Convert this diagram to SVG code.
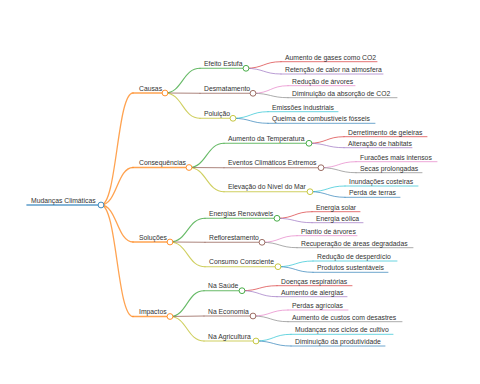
<svg xmlns="http://www.w3.org/2000/svg" width="480" height="384" viewBox="0 0 480 384">
<style>
text{font-family:"Liberation Sans",Arial,sans-serif;font-size:6.8px;fill:#333}
.l{fill:none;stroke-linecap:round}
.d0{stroke-width:1.6}.d1{stroke-width:1.3}.d2{stroke-width:1.1}.d3{stroke-width:0.9}
circle{fill:#fff;stroke-width:1}
.c0{stroke:#1f77b4}.c1{stroke:#ff7f0e}.gr{stroke:#2ca02c}.br{stroke:#8c564b}.ol{stroke:#bcbd22}
.rd{stroke:#d62728}.pu{stroke:#9467bd}.pk{stroke:#e377c2}.gy{stroke:#7f7f7f}.cy{stroke:#17becf}.bl{stroke:#1f77b4}
g path{stroke-opacity:0.72}
circle{stroke-opacity:0.85}
</style>
<rect width="480" height="384" fill="#fff"/>
<g id="connectors" class="links">
<path class="l d1 c1" d="M101 205C117 205 117 93 133 93"/>
<path class="l d1 c1" d="M101 205C117 205 117 167.5 133 167.5"/>
<path class="l d1 c1" d="M101 205C117 205 117 242 133 242"/>
<path class="l d1 c1" d="M101 205C117 205 117 316.5 133 316.5"/>
<path class="l d2 gr" d="M165 93C182.5 93 182.5 68.3 200 68.3"/>
<path class="l d2 br" d="M165 93L200 93.3"/>
<path class="l d2 ol" d="M165 93C182.5 93 182.5 118.3 200 118.3"/>
<path class="l d2 gr" d="M189 167.5C206.5 167.5 206.5 143.3 224 143.3"/>
<path class="l d2 br" d="M189 167.5L224 167.7"/>
<path class="l d2 ol" d="M189 167.5C206.5 167.5 206.5 191.7 224 191.7"/>
<path class="l d2 gr" d="M170 242C187.5 242 187.5 218.3 205 218.3"/>
<path class="l d2 br" d="M170 242L205 242.3"/>
<path class="l d2 ol" d="M170 242C187.5 242 187.5 266.7 205 266.7"/>
<path class="l d2 gr" d="M170 316.5C187 316.5 187 290.7 204 290.7"/>
<path class="l d2 br" d="M170 316.5L204 316"/>
<path class="l d2 ol" d="M170 316.5C187 316.5 187 341 204 341"/>
<path class="l d3 rd" d="M246 68.3C263.5 68.3 263.5 61.7 281 61.7"/>
<path class="l d3 pu" d="M246 68.3C263.5 68.3 263.5 74 281 74"/>
<path class="l d3 pk" d="M253 93.3C270.5 93.3 270.5 85.7 288 85.7"/>
<path class="l d3 gy" d="M253 93.3C270.5 93.3 270.5 97.7 288 97.7"/>
<path class="l d3 cy" d="M233 118.3C250.5 118.3 250.5 111.7 268 111.7"/>
<path class="l d3 bl" d="M233 118.3C250.5 118.3 250.5 123.3 268 123.3"/>
<path class="l d3 rd" d="M309 143.3C326.5 143.3 326.5 136.7 344 136.7"/>
<path class="l d3 pu" d="M309 143.3C326.5 143.3 326.5 147.7 344 147.7"/>
<path class="l d3 pk" d="M321 167.7C338.5 167.7 338.5 161.7 356 161.7"/>
<path class="l d3 gy" d="M321 167.7C338.5 167.7 338.5 172.7 356 172.7"/>
<path class="l d3 cy" d="M310 191.7C327.5 191.7 327.5 186 345 186"/>
<path class="l d3 bl" d="M310 191.7C327.5 191.7 327.5 197.3 345 197.3"/>
<path class="l d3 rd" d="M277 218.3C294.5 218.3 294.5 211.7 312 211.7"/>
<path class="l d3 pu" d="M277 218.3C294.5 218.3 294.5 222.7 312 222.7"/>
<path class="l d3 pk" d="M262 242.3C279.5 242.3 279.5 235.7 297 235.7"/>
<path class="l d3 gy" d="M262 242.3C279.5 242.3 279.5 247.7 297 247.7"/>
<path class="l d3 cy" d="M278 266.7C295.5 266.7 295.5 261 313 261"/>
<path class="l d3 bl" d="M278 266.7C295.5 266.7 295.5 272.3 313 272.3"/>
<path class="l d3 rd" d="M242 290.7C259.5 290.7 259.5 285.7 277 285.7"/>
<path class="l d3 pu" d="M242 290.7C259.5 290.7 259.5 296.7 277 296.7"/>
<path class="l d3 pk" d="M253 316C270.5 316 270.5 310 288 310"/>
<path class="l d3 gy" d="M253 316C270.5 316 270.5 321.7 288 321.7"/>
<path class="l d3 cy" d="M256 341C273.5 341 273.5 334.3 291 334.3"/>
<path class="l d3 bl" d="M256 341C273.5 341 273.5 346 291 346"/>
</g>
<g id="n-root"><path class="l d0 c0" d="M27 205H101"/><text x="31" y="202.6">Mudanças Climáticas</text><circle class="c0" cx="101" cy="205" r="2.9"/></g>
<g id="n-causas"><path class="l d1 c1" d="M133 93H165"/><text x="139" y="90.8">Causas</text><circle class="c1" cx="165" cy="93" r="2.9"/></g>
<g id="n-consequencias"><path class="l d1 c1" d="M133 167.5H189"/><text x="139" y="165.2">Consequências</text><circle class="c1" cx="189" cy="167.5" r="2.9"/></g>
<g id="n-solucoes"><path class="l d1 c1" d="M133 242H170"/><text x="139" y="239.7">Soluções</text><circle class="c1" cx="170" cy="242" r="2.9"/></g>
<g id="n-impactos"><path class="l d1 c1" d="M133 316.5H170"/><text x="139" y="314.2">Impactos</text><circle class="c1" cx="170" cy="316.5" r="2.9"/></g>
<g id="n-efeito"><path class="l d2 gr" d="M200 68.3H246"/><text x="204" y="66">Efeito Estufa</text><circle class="gr" cx="246" cy="68.3" r="2.9"/></g>
<g id="n-desmat"><path class="l d2 br" d="M200 93.3H253"/><text x="204" y="91">Desmatamento</text><circle class="br" cx="253" cy="93.3" r="2.9"/></g>
<g id="n-poluicao"><path class="l d2 ol" d="M200 118.3H233"/><text x="204" y="116">Poluição</text><circle class="ol" cx="233" cy="118.3" r="2.9"/></g>
<g id="n-temp"><path class="l d2 gr" d="M224 143.3H309"/><text x="228" y="141">Aumento da Temperatura</text><circle class="gr" cx="309" cy="143.3" r="2.9"/></g>
<g id="n-eventos"><path class="l d2 br" d="M224 167.7H321"/><text x="228" y="165.4">Eventos Climáticos Extremos</text><circle class="br" cx="321" cy="167.7" r="2.9"/></g>
<g id="n-elevacao"><path class="l d2 ol" d="M224 191.7H310"/><text x="228" y="189.4">Elevação do Nível do Mar</text><circle class="ol" cx="310" cy="191.7" r="2.9"/></g>
<g id="n-energias"><path class="l d2 gr" d="M205 218.3H277"/><text x="209" y="216">Energias Renováveis</text><circle class="gr" cx="277" cy="218.3" r="2.9"/></g>
<g id="n-reflor"><path class="l d2 br" d="M205 242.3H262"/><text x="209" y="240">Reflorestamento</text><circle class="br" cx="262" cy="242.3" r="2.9"/></g>
<g id="n-consumo"><path class="l d2 ol" d="M205 266.7H278"/><text x="209" y="264.4">Consumo Consciente</text><circle class="ol" cx="278" cy="266.7" r="2.9"/></g>
<g id="n-saude"><path class="l d2 gr" d="M204 290.7H242"/><text x="208" y="288.4">Na Saúde</text><circle class="gr" cx="242" cy="290.7" r="2.9"/></g>
<g id="n-economia"><path class="l d2 br" d="M204 316H253"/><text x="208" y="313.7">Na Economia</text><circle class="br" cx="253" cy="316" r="2.9"/></g>
<g id="n-agric"><path class="l d2 ol" d="M204 341H256"/><text x="208" y="338.7">Na Agricultura</text><circle class="ol" cx="256" cy="341" r="2.9"/></g>
<g id="n-gases"><path class="l d3 rd" d="M281 61.7H377"/><text x="285" y="59.5">Aumento de gases como CO2</text></g>
<g id="n-calor"><path class="l d3 pu" d="M281 74H383"/><text x="285" y="71.8">Retenção de calor na atmosfera</text></g>
<g id="n-arvores"><path class="l d3 pk" d="M288 85.7H355"/><text x="292" y="83.5">Redução de árvores</text></g>
<g id="n-absorcao"><path class="l d3 gy" d="M288 97.7H397"/><text x="292" y="95.5">Diminuição da absorção de CO2</text></g>
<g id="n-emissoes"><path class="l d3 cy" d="M268 111.7H338"/><text x="272" y="109.5">Emissões industriais</text></g>
<g id="n-queima"><path class="l d3 bl" d="M268 123.3H375"/><text x="272" y="121.1">Queima de combustíveis fósseis</text></g>
<g id="n-geleiras"><path class="l d3 rd" d="M344 136.7H427"/><text x="348" y="134.5">Derretimento de geleiras</text></g>
<g id="n-habitats"><path class="l d3 pu" d="M344 147.7H412"/><text x="348" y="145.5">Alteração de habitats</text></g>
<g id="n-furacoes"><path class="l d3 pk" d="M356 161.7H437"/><text x="360" y="159.5">Furacões mais intensos</text></g>
<g id="n-secas"><path class="l d3 gy" d="M356 172.7H422"/><text x="360" y="170.5">Secas prolongadas</text></g>
<g id="n-inundacoes"><path class="l d3 cy" d="M345 186H418"/><text x="349" y="183.8">Inundações costeiras</text></g>
<g id="n-perda"><path class="l d3 bl" d="M345 197.3H400"/><text x="349" y="195.1">Perda de terras</text></g>
<g id="n-solar"><path class="l d3 rd" d="M312 211.7H360"/><text x="316" y="209.5">Energia solar</text></g>
<g id="n-eolica"><path class="l d3 pu" d="M312 222.7H363"/><text x="316" y="220.5">Energia eólica</text></g>
<g id="n-plantio"><path class="l d3 pk" d="M297 235.7H357"/><text x="301" y="233.5">Plantio de árvores</text></g>
<g id="n-recuperacao"><path class="l d3 gy" d="M297 247.7H413"/><text x="301" y="245.5">Recuperação de áreas degradadas</text></g>
<g id="n-desperdicio"><path class="l d3 cy" d="M313 261H397"/><text x="317" y="258.8">Redução de desperdício</text></g>
<g id="n-produtos"><path class="l d3 bl" d="M313 272.3H388"/><text x="317" y="270.1">Produtos sustentáveis</text></g>
<g id="n-doencas"><path class="l d3 rd" d="M277 285.7H352"/><text x="281" y="283.5">Doenças respiratórias</text></g>
<g id="n-alergias"><path class="l d3 pu" d="M277 296.7H347"/><text x="281" y="294.5">Aumento de alergias</text></g>
<g id="n-perdas"><path class="l d3 pk" d="M288 310H348"/><text x="292" y="307.8">Perdas agrícolas</text></g>
<g id="n-custos"><path class="l d3 gy" d="M288 321.7H402"/><text x="292" y="319.5">Aumento de custos com desastres</text></g>
<g id="n-ciclos"><path class="l d3 cy" d="M291 334.3H393"/><text x="295" y="332.1">Mudanças nos ciclos de cultivo</text></g>
<g id="n-produtividade"><path class="l d3 bl" d="M291 346H385"/><text x="295" y="343.8">Diminuição da produtividade</text></g>
</svg>
